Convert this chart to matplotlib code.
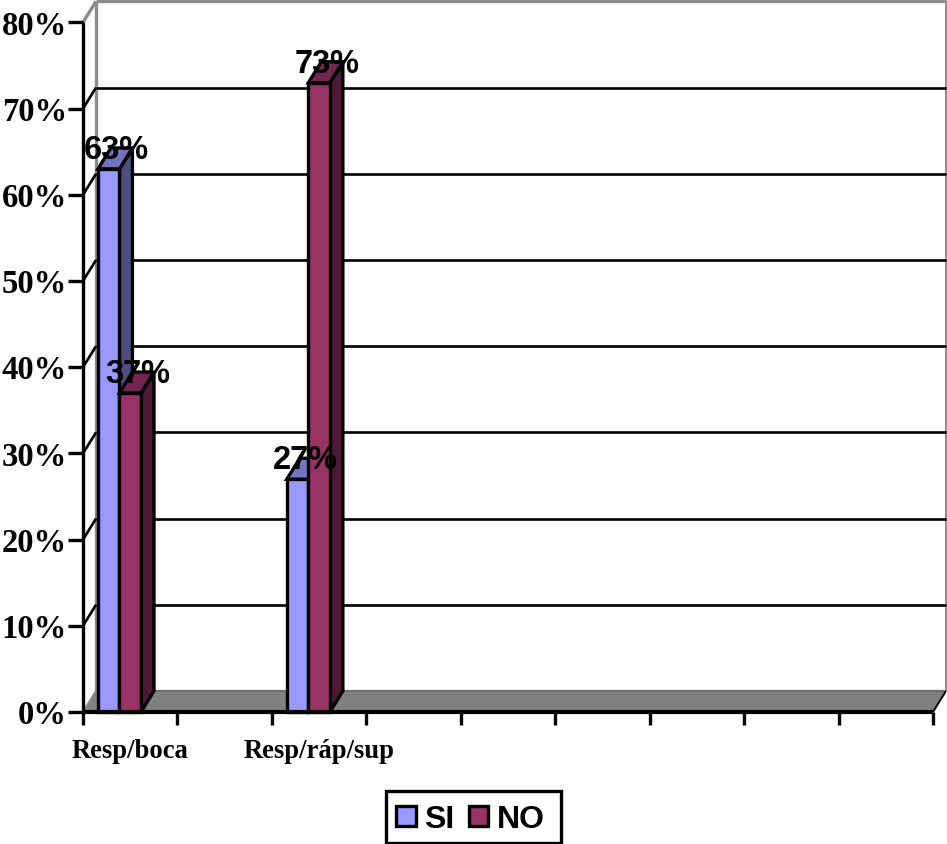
import matplotlib
matplotlib.use("Agg")
import matplotlib.pyplot as plt
from matplotlib.patches import Polygon, Rectangle

# Chart data
categories = ["Resp/boca", "", "Resp/ráp/sup", "", "", "", "", "", ""]
series_names = ["SI", "NO"]
si_values = [63, None, 27, None, None, None, None, None, None]
no_values = [37, None, 73, None, None, None, None, None, None]
y_ticks = [0, 10, 20, 30, 40, 50, 60, 70, 80]

# Colours
SI_FACE, SI_TOP, SI_SIDE = "#9999FF", "#7373BF", "#4D4D80"
NO_FACE, NO_TOP, NO_SIDE = "#993366", "#732650", "#4D1A33"
FLOOR = "#808080"
WALL_EDGE = "#8C8C8C"

W, H = 947, 845
fig = plt.figure(figsize=(W / 100, H / 100), dpi=100)
ax = fig.add_axes([0, 0, 1, 1])

# Scale: one x unit is a category slot, one y unit is a percentage point
X0, Y0 = 83.0, 713.0
SLOT, PCT = 94.44, 8.62
ax.set_xlim(-X0 / SLOT, (W - X0) / SLOT)
ax.set_ylim((Y0 - H) / PCT, Y0 / PCT)
ax.axis("off")

# Oblique depth offset of the 3D box
DX, DY = 13.0 / SLOT, 21.0 / PCT
n = len(categories)
LW = 2.4


def line(xs, ys, color="black", lw=LW, z=2):
    ax.plot(xs, ys, color=color, lw=lw, solid_capstyle="butt", zorder=z)


# Floor and back wall
ax.add_patch(Polygon([(0, 0), (n, 0), (n + DX, DY), (DX, DY)], closed=True,
                     facecolor=FLOOR, edgecolor="none", zorder=1))
line([DX, n + DX], [DY, DY], color="#6E6E6E", lw=1.6, z=1.5)
line([DX, DX], [DY, 80 + DY], color=WALL_EDGE, lw=LW)
line([n + DX, n + DX], [DY, 80 + DY], color=WALL_EDGE, lw=1.4)
line([DX, n + DX], [80 + DY, 80 + DY], color=WALL_EDGE, lw=LW)
line([0, DX], [80, 80 + DY], color=WALL_EDGE, lw=LW)
line([0, DX], [0, DY], color=WALL_EDGE, lw=1.6)
line([n, n + DX], [0, DY], color="black", lw=1.4)

# Gridlines on the back wall with their slanted side-wall segments
for t in y_ticks[1:-1]:
    line([DX, n + DX], [t + DY, t + DY], lw=1.9)
    line([0, DX], [t, t + DY], lw=1.9)

# Bars
BAR_W = 0.228
BAR_START = 0.158


def bar3d(x, v, face, top, side):
    ec = dict(edgecolor="black", linewidth=LW, joinstyle="miter")
    ax.add_patch(Polygon([(x + BAR_W, 0), (x + BAR_W + DX, DY),
                          (x + BAR_W + DX, v + DY), (x + BAR_W, v)],
                         closed=True, facecolor=side, zorder=4, **ec))
    ax.add_patch(Polygon([(x, v), (x + BAR_W, v), (x + BAR_W + DX, v + DY),
                          (x + DX, v + DY)],
                         closed=True, facecolor=top, zorder=4, **ec))
    ax.add_patch(Rectangle((x, 0), BAR_W, v, facecolor=face, zorder=4, **ec))


labels = []
for i in range(n):
    if si_values[i] is None:
        continue
    x_si = i + BAR_START
    x_no = x_si + BAR_W
    bar3d(x_si, si_values[i], SI_FACE, SI_TOP, SI_SIDE)
    bar3d(x_no, no_values[i], NO_FACE, NO_TOP, NO_SIDE)
    labels.append((x_si, si_values[i]))
    labels.append((x_no, no_values[i]))

# Value labels
sans = "Liberation Sans"
serif = "Liberation Serif"
for x, v in labels:
    ax.text(x + BAR_W / 2 + 0.08, v + 0.45, f"{v}%", family=sans, weight="bold",
            fontsize=23.5, ha="center", va="bottom", color="black", zorder=6,
            linespacing=1)

# Axis lines, ticks and tick labels
line([0, 0], [0, 80], lw=LW, z=5)
line([0, n], [0, 0], lw=3.0, z=5)
for t in y_ticks:
    ax.plot([-15 / SLOT, 0], [t, t], color="black", lw=LW, zorder=5,
            solid_capstyle="butt")
    ax.text(-16 / SLOT, t + 0.1, f"{t}%", family=serif, weight="bold", fontsize=23.5,
            ha="right", va="center_baseline", color="black")
for i in range(n + 1):
    ax.plot([i, i], [0, -13 / PCT], color="black", lw=LW, zorder=5,
            solid_capstyle="butt")
for i, name in enumerate(categories):
    if name:
        ax.text(i + 0.5, -35.5 / PCT, name, family=serif, weight="bold",
                fontsize=19.2, ha="center", va="center_baseline", color="black")


# Legend box, placed in figure pixels
def px(x, y):
    return (x - X0) / SLOT, (Y0 - y) / PCT


bx0, by0 = px(385.5, 843.5)
bx1, by1 = px(560.5, 791.5)
ax.add_patch(Rectangle((bx0, by0), bx1 - bx0, by1 - by0, facecolor="white",
                       edgecolor="black", linewidth=LW, zorder=7))
for name, face, sx, tx in zip(series_names, [SI_FACE, NO_FACE], [396, 468.5], [424, 497]):
    sx0, sy0 = px(sx, 827)
    sx1, sy1 = px(sx + 19.5, 806.5)
    ax.add_patch(Rectangle((sx0, sy0), sx1 - sx0, sy1 - sy0, facecolor=face,
                           edgecolor="black", linewidth=LW, zorder=8))
    lx, ly = px(tx, 817)
    ax.text(lx, ly, name, family=sans, weight="bold", fontsize=23, ha="left",
            va="center_baseline", color="black", zorder=8)

fig.savefig("out.png", dpi=100)
